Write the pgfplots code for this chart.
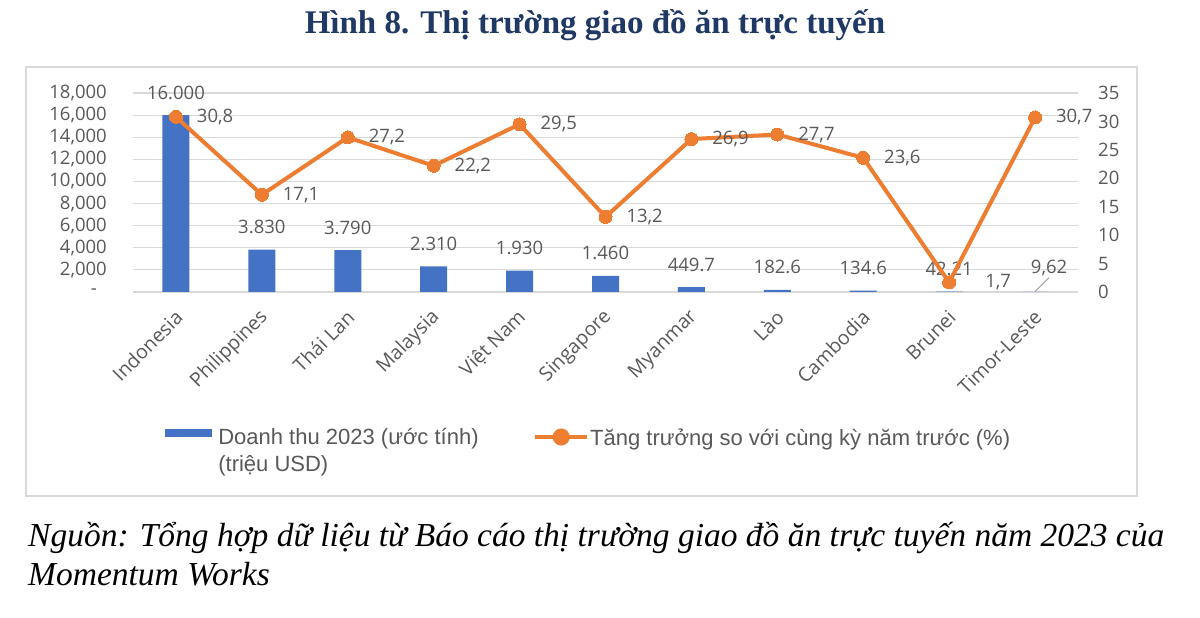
\documentclass[border=0pt]{standalone}
\usepackage{fontspec}
\usepackage{pgfplots}
\pgfplotsset{compat=1.18}
\setmainfont{Liberation Serif}
\newfontfamily\osans{Open Sans}
\newfontfamily\lsans{Liberation Sans}
\definecolor{barblue}{HTML}{4472C4}
\definecolor{lineorange}{HTML}{ED7D31}
\definecolor{textgray}{HTML}{595959}
\definecolor{gridgray}{HTML}{D9D9D9}
\definecolor{titleblue}{HTML}{1F3864}
\newcommand{\tickfont}{\osans\fontsize{18.5}{22}\selectfont}
\begin{document}
\begin{tikzpicture}[x=1pt,y=1pt]
\useasboundingbox (0,0) rectangle (1200,618);
\fill[white] (0,0) rectangle (1200,618);
\draw[gridgray, line width=1.2pt] (26,551) rectangle (1137,122);
\node[anchor=base, inner sep=0pt, font=\bfseries\fontsize{33}{36}\selectfont, text=titleblue] at (595,584) {Hình 8. Thị trường giao đồ ăn trực tuyến};
\node[anchor=base west, inner sep=0pt, font=\itshape\fontsize{33.5}{36}\selectfont] at (28,71) {Nguồn: Tổng hợp dữ liệu từ Báo cáo thị trường giao đồ ăn trực tuyến năm 2023 của};
\node[anchor=base west, inner sep=0pt, font=\itshape\fontsize{33.5}{36}\selectfont] at (28,32) {Momentum Works};

\begin{axis}[
  at={(133pt,326pt)}, anchor=south west,
  width=945pt, height=199pt, scale only axis,
  xmin=-0.5, xmax=10.5, ymin=0, ymax=18000,
  axis line style={draw=none}, major tick length=0pt,
  ymajorgrids, grid style={gridgray, line width=1.2pt},
  scaled y ticks=false,
  ytick={0,2000,4000,6000,8000,10000,12000,14000,16000,18000},
  yticklabels={{-\kern10pt},{2,000},{4,000},{6,000},{8,000},{10,000},{12,000},{14,000},{16,000},{18,000}},
  yticklabel style={font=\tickfont, text=textgray, anchor=east, inner sep=0pt, xshift=-26pt},
  xtick={0,1,2,3,4,5,6,7,8,9,10},
  xticklabels={Indonesia,Philippines,Thái Lan,Malaysia,Việt Nam,Singapore,Myanmar,Lào,Cambodia,Brunei,Timor-Leste},
  xticklabel style={font=\osans\fontsize{19.5}{22}\selectfont, text=textgray, yshift=-22pt, xshift=3pt, rotate=45, anchor=east, inner sep=0pt},
  legend style={at={(axis description cs:0.034,-0.668)}, anchor=north west, draw=none, fill=none, inner sep=0pt,
    font=\lsans\fontsize{22}{27}\selectfont, text=textgray, column sep=6pt, nodes={inner sep=0pt}},
  legend cell align=left,
  legend image code/.code={\fill[barblue] (0pt,-2pt) rectangle (47pt,6pt);},
]
\addplot[ybar, bar width=27pt, fill=barblue, draw=none,
  nodes near coords, point meta=explicit symbolic,
  every node near coord/.append style={font=\tickfont, text=textgray, anchor=base, inner sep=0pt, yshift=16pt}]
coordinates {(0,16000)[16.000] (1,3830)[3.830] (2,3790)[3.790] (3,2310)[2.310] (4,1930)[1.930] (5,1460)[1.460] (6,449.7)[449.7] (7,182.6)[182.6] (8,134.6)[134.6] (9,42.21)[42.21] (10,9.62)[]};
\addlegendentry{\begin{tabular}[t]{@{}l@{}}Doanh thu 2023 (ước tính)\\(triệu USD)\end{tabular}}
\addplot[draw=none, mark=none, forget plot,
  nodes near coords, point meta=explicit symbolic,
  every node near coord/.append style={font=\tickfont, text=textgray, anchor=base, inner sep=0pt, xshift=14pt, yshift=18pt}]
coordinates {(10,9.62)[9,62]};
\draw[black!35, line width=1pt] (axis cs:10,40) -- (axis cs:10.163,1300);
\end{axis}

\begin{axis}[
  at={(133pt,326pt)}, anchor=south west,
  width=945pt, height=199pt, scale only axis,
  xmin=-0.5, xmax=10.5, ymin=0, ymax=35,
  axis line style={draw=none}, major tick length=0pt,
  xtick=\empty, ytick={0,5,10,15,20,25,30,35},
  yticklabels={0,5,10,15,20,25,30,35},
  yticklabel pos=right,
  yticklabel style={font=\tickfont, text=textgray, anchor=west, inner sep=0pt, xshift=20pt},
  legend style={at={(axis description cs:0.4233,-0.685)}, anchor=north west, draw=none, fill=none, inner sep=0pt,
    font=\lsans\fontsize{22}{27}\selectfont, text=textgray, column sep=1pt, nodes={inner sep=0pt}},
  legend cell align=left,
  legend image code/.code={\draw[lineorange, line width=4pt] (0pt,1pt) -- (52pt,1pt); \fill[lineorange] (26pt,1pt) circle (6.5pt);},
]
\addplot[lineorange, line width=4pt, mark=*, mark size=6.5pt,
  mark options={solid, line width=0pt, fill=lineorange, draw=lineorange},
  nodes near coords, point meta=explicit symbolic,
  every node near coord/.append style={font=\tickfont, text=textgray, anchor=west, inner sep=0pt, xshift=21pt}]
coordinates {(0,30.8)[30,8] (1,17.1)[17,1] (2,27.2)[27,2] (3,22.2)[22,2] (4,29.5)[29,5] (5,13.2)[13,2] (6,26.9)[26,9] (7,27.7)[27,7] (8,23.6)[23,6] (9,1.7)[] (10,30.7)[30,7]};
\addlegendentry{Tăng trưởng so với cùng kỳ năm trước (\%)}
\addplot[draw=none, mark=none, forget plot,
  nodes near coords, point meta=explicit symbolic,
  every node near coord/.append style={font=\tickfont, text=textgray, anchor=west, inner sep=0pt, xshift=36pt}]
coordinates {(9,1.7)[1,7]};
\end{axis}
\end{tikzpicture}
\end{document}
